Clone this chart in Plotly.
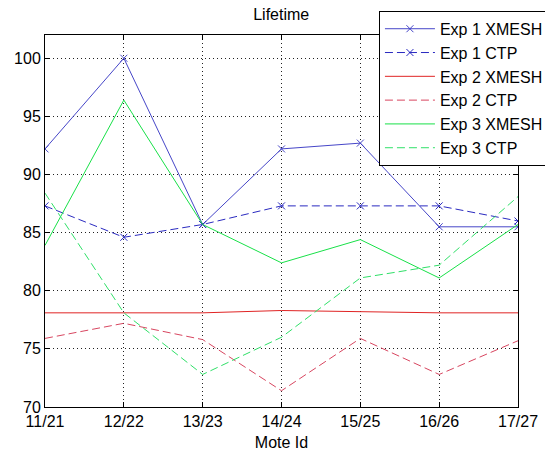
import plotly.graph_objects as go

mote_ids = ["11/21", "12/22", "13/23", "14/24", "15/25", "16/26", "17/27"]

exp1_xmesh = [92.2, 100.0, 85.7, 92.2, 92.7, 85.5, 85.5]
exp1_ctp = [87.3, 84.6, 85.7, 87.3, 87.3, 87.3, 86.0]
exp2_xmesh = [78.1, 78.1, 78.1, 78.3, 78.2, 78.1, 78.1]
exp2_ctp = [75.9, 77.2, 75.8, 71.4, 75.9, 72.8, 75.7]
exp3_xmesh = [83.9, 96.4, 85.7, 82.4, 84.4, 81.1, 85.7]
exp3_ctp = [88.4, 78.1, 72.8, 76.0, 81.1, 82.2, 88.1]

y_ticks = [70, 75, 80, 85, 90, 95, 100]

x = list(range(1, len(mote_ids) + 1))

FONT = "Liberation Sans, Arial, Helvetica, sans-serif"
BLUE = "#4646c8"
BLUE_DASH = "#2a2ac0"
RED = "#e02424"
RED_DASH = "#d84660"
GREEN = "#18e048"
GREEN_DASH = "#30e068"
DASH = "8px,4px"

series = [
    ("Exp 1 XMESH", exp1_xmesh, BLUE, "solid", True),
    ("Exp 1 CTP", exp1_ctp, BLUE_DASH, DASH, True),
    ("Exp 2 XMESH", exp2_xmesh, RED, "solid", False),
    ("Exp 2 CTP", exp2_ctp, RED_DASH, DASH, False),
    ("Exp 3 XMESH", exp3_xmesh, GREEN, "solid", False),
    ("Exp 3 CTP", exp3_ctp, GREEN_DASH, DASH, False),
]

fig = go.Figure()
for name, vals, color, dash, has_marker in series:
    fig.add_trace(go.Scatter(
        x=x, y=vals, name=name,
        mode="lines+markers" if has_marker else "lines",
        line=dict(color=color, width=1, dash=dash),
        marker=dict(symbol="x-thin", size=7, line=dict(color=color, width=1)),
    ))

axis_common = dict(
    showline=True, linecolor="black", linewidth=1, mirror="ticks",
    ticks="inside", ticklen=5, tickcolor="black",
    showgrid=True, gridcolor="#222222", gridwidth=1, griddash="1px,3px",
    zeroline=False, automargin=False,
    tickfont=dict(family=FONT, size=16, color="black"),
)

fig.update_xaxes(
    range=[1, 7], tickvals=x, ticktext=mote_ids,
    title=dict(text="Mote Id", font=dict(size=16, color="black", family=FONT), standoff=9),
    **axis_common,
)
fig.update_yaxes(range=[70, 102], tickvals=y_ticks, **axis_common)

fig.update_layout(
    width=545, height=451,
    margin=dict(l=45, r=27, t=35, b=44, autoexpand=False),
    paper_bgcolor="white", plot_bgcolor="white",
    title=dict(text="Lifetime", x=0.516, xanchor="center", y=0.967, yanchor="middle",
               font=dict(size=16, color="black", family=FONT)),
    legend=dict(
        x=0.706, xanchor="left", y=1.065, yanchor="top",
        bgcolor="white", bordercolor="black", borderwidth=1,
        font=dict(size=16, color="black", family=FONT),
        tracegroupgap=0, itemwidth=50,
    ),
    showlegend=True,
)

fig.write_html("out.html")
